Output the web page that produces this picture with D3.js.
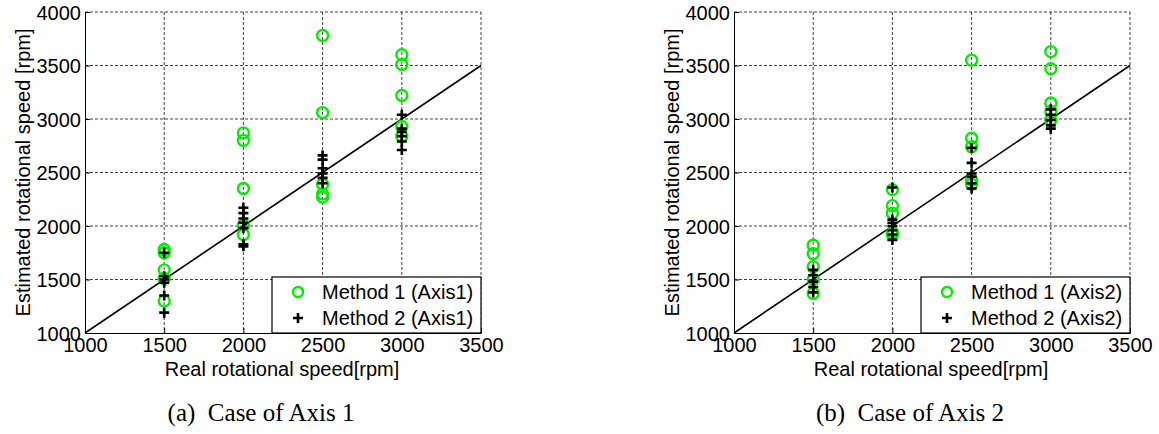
<!DOCTYPE html>
<html>
<head>
<meta charset="utf-8">
<script src="https://cdn.jsdelivr.net/npm/d3@7"></script>
<style>
  body { margin: 0; background: #fff; }
  svg { display: block; }
  .tick text { font-family: "Liberation Sans", Arial, sans-serif; font-size: 20px; fill: #000; }
</style>
</head>
<body>
<svg id="chart"></svg>
<script>
// real speeds (x positions of each group)
const speeds = [1500, 2000, 2500, 3000];
const xTicks = [1000, 1500, 2000, 2500, 3000, 3500];
const yTicks = [1000, 1500, 2000, 2500, 3000, 3500, 4000];

// estimated speeds, one inner array per real speed
const method1Axis1 = [
    [1780, 1750, 1590, 1510, 1300],
    [2870, 2800, 2350, 2010, 1920],
    [3780, 3060, 2390, 2300, 2270],
    [3600, 3510, 3220, 2930, 2840]
];
const method2Axis1 = [
    [1750, 1530, 1500, 1470, 1350, 1190],
    [2170, 2120, 2070, 2030, 1980, 1830, 1810],
    [2660, 2620, 2540, 2490, 2450, 2400],
    [3040, 2910, 2880, 2840, 2790, 2710]
];
const method1Axis2 = [
    [1820, 1740, 1620, 1500, 1370],
    [2340, 2190, 2120, 1940, 1920],
    [3550, 2820, 2740, 2430, 2390],
    [3630, 3470, 3150, 3070, 2990]
];
const method2Axis2 = [
    [1590, 1540, 1480, 1430, 1380],
    [2360, 2060, 2030, 2000, 1960, 1920, 1870],
    [2730, 2590, 2490, 2460, 2400, 2350],
    [3090, 3040, 2990, 2940, 2910]
];

const panels = [
    { left: 85, m1: method1Axis1, m2: method2Axis1, axisName: "Axis1", caption: "(a)\u2002Case of Axis 1" },
    { left: 734, m1: method1Axis2, m2: method2Axis2, axisName: "Axis2", caption: "(b)\u2002Case of Axis 2" }
];

const width = 1159;
const height = 434;
const svg = d3.select("#chart").attr("width", width).attr("height", height);

const green = "#00ee00";

function flatten(groups) {
    const out = [];
    groups.forEach((vals, i) => vals.forEach(v => out.push({ x: speeds[i], y: v })));
    return out;
}

function drawPanel(p) {
    const top = 12, bottom = 333, plotW = 396;
    const x = d3.scaleLinear().domain([1000, 3500]).range([p.left, p.left + plotW]);
    const y = d3.scaleLinear().domain([1000, 4000]).range([bottom, top]);
    const g = svg.append("g");

    // Grid
    const grid = g.append("g")
        .attr("stroke", "#000")
        .attr("stroke-width", 1)
        .attr("stroke-dasharray", "3,2")
        .attr("stroke-opacity", 0.75);
    grid.selectAll(".gx").data(xTicks.slice(1)).enter().append("line")
        .attr("x1", d => x(d)).attr("x2", d => x(d))
        .attr("y1", top).attr("y2", bottom);
    grid.selectAll(".gy").data(yTicks.slice(1)).enter().append("line")
        .attr("x1", p.left).attr("x2", p.left + plotW)
        .attr("y1", d => y(d)).attr("y2", d => y(d));

    // Axes
    g.append("g")
        .attr("transform", `translate(0,${bottom})`)
        .call(d3.axisBottom(x).tickValues(xTicks).tickFormat(d3.format("d")).tickSizeInner(-5).tickSizeOuter(0).tickPadding(5))
        .call(a => a.select(".domain").attr("stroke", "#000"))
        .call(a => a.selectAll(".tick line").attr("stroke", "#000"));
    g.append("g")
        .attr("transform", `translate(${p.left},0)`)
        .call(d3.axisLeft(y).tickValues(yTicks).tickFormat(d3.format("d")).tickSizeInner(-5).tickSizeOuter(0).tickPadding(4))
        .call(a => a.select(".domain").attr("stroke", "#000"))
        .call(a => a.selectAll(".tick line").attr("stroke", "#000"))
        .call(a => a.selectAll(".tick text").attr("dy", "0.36em"));

    // Reference line y = x
    g.append("line")
        .attr("x1", x(1000)).attr("y1", y(1000))
        .attr("x2", x(3500)).attr("y2", y(3500))
        .attr("stroke", "#000").attr("stroke-width", 1.6);

    // Method 1: green circles
    g.selectAll(".m1").data(flatten(p.m1)).enter().append("circle")
        .attr("cx", d => x(d.x)).attr("cy", d => y(d.y))
        .attr("r", 5.5)
        .attr("fill", "none").attr("stroke", green).attr("stroke-width", 2.4);

    // Method 2: black plus
    const cross = d3.symbol().type(d3.symbolCross);
    g.selectAll(".m2").data(flatten(p.m2)).enter().append("path")
        .attr("transform", d => `translate(${x(d.x)},${y(d.y)})`)
        .attr("d", "M-5,0H5M0,-5V5")
        .attr("stroke", "#000").attr("stroke-width", 2.6).attr("fill", "none");

    // Axis labels
    g.append("text")
        .attr("x", p.left + plotW / 2 - 1)
        .attr("y", 376)
        .attr("text-anchor", "middle")
        .style("font-family", "'Liberation Sans', Arial, sans-serif")
        .style("font-size", "20px")
        .text("Real rotational speed[rpm]");
    g.append("text")
        .attr("transform", `translate(${p.left - 55},${(top + bottom) / 2}) rotate(-90)`)
        .attr("text-anchor", "middle")
        .style("font-family", "'Liberation Sans', Arial, sans-serif")
        .style("font-size", "20px")
        .text("Estimated rotational speed [rpm]");

    // Legend
    const lg = g.append("g").attr("transform", `translate(${p.left + 187},277)`);
    lg.append("rect")
        .attr("width", plotW - 187).attr("height", 56)
        .attr("fill", "#fff").attr("stroke", "#000").attr("stroke-width", 1.2);
    lg.append("circle").attr("cx", 26).attr("cy", 15).attr("r", 5)
        .attr("fill", "none").attr("stroke", green).attr("stroke-width", 2.4);
    lg.append("path").attr("transform", "translate(26,41)").attr("d", "M-5,0H5M0,-5V5")
        .attr("stroke", "#000").attr("stroke-width", 2.6);
    [`Method 1 (${p.axisName})`, `Method 2 (${p.axisName})`].forEach((t, i) => {
        lg.append("text")
            .attr("x", 50).attr("y", 15 + i * 26).attr("dy", "0.36em")
            .style("font-family", "'Liberation Sans', Arial, sans-serif")
            .style("font-size", "20px")
            .text(t);
    });

    // Caption
    g.append("text")
        .attr("x", p.left + plotW / 2 - 22)
        .attr("y", 421)
        .attr("text-anchor", "middle")
        .style("font-family", "'Liberation Serif', 'Times New Roman', serif")
        .style("font-size", "25px")
        .text(p.caption);
}

panels.forEach(drawPanel);
</script>
</body>
</html>
